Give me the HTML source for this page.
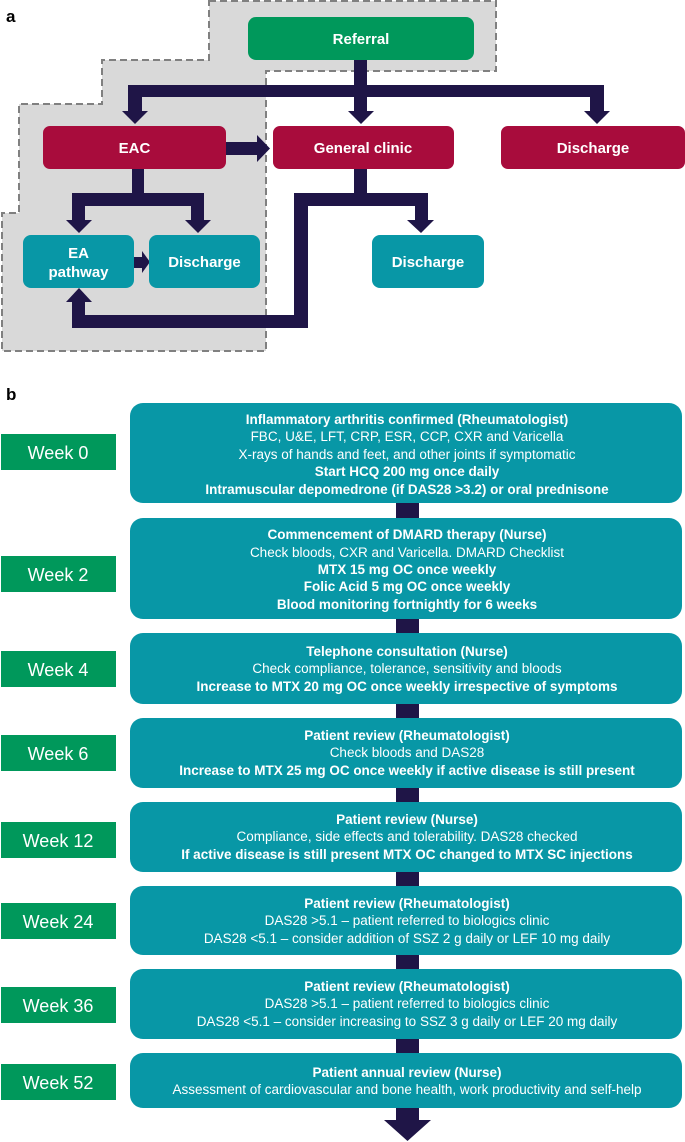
<!DOCTYPE html>
<html><head><meta charset="utf-8"><style>
html,body{margin:0;padding:0;background:#fff;}
svg{display:block;}
text{font-family:"Liberation Sans","DejaVu Sans",sans-serif;fill:#fff;}
</style></head><body>
<svg width="685" height="1142" viewBox="0 0 685 1142" xmlns="http://www.w3.org/2000/svg">
<text x="6" y="22" style="fill:#000;font-weight:bold;font-size:17px">a</text>
<path d="M209,1 L496,1 L496,71 L266,71 L266,351 L2,351 L2,213 L19,213 L19,104 L102,104 L102,60 L209,60 Z" fill="#d9d9d9" stroke="#808080" stroke-width="2" stroke-dasharray="7,4"/>
<g fill="#1f1547">
<rect x="354" y="60" width="13" height="35"/>
<rect x="128" y="85" width="476" height="12"/>
<rect x="128" y="85" width="14" height="28"/>
<rect x="354" y="85" width="13" height="28"/>
<rect x="590" y="85" width="14" height="28"/>
<polygon points="122,111 148,111 135,124"/>
<polygon points="348,111 374,111 361,124"/>
<polygon points="584,111 610,111 597,124"/>
<rect x="226" y="142" width="32" height="13"/>
<polygon points="257,135 270,148.5 257,162"/>
<rect x="132" y="169" width="12" height="30"/>
<rect x="72" y="193" width="132" height="13"/>
<rect x="72" y="193" width="13" height="28"/>
<rect x="191" y="193" width="13" height="28"/>
<polygon points="66,220 92,220 79,233"/>
<polygon points="185,220 211,220 198,233"/>
<rect x="134" y="257" width="9" height="11"/>
<polygon points="142,251 150,262 142,273"/>
<rect x="354" y="169" width="13" height="30"/>
<rect x="294" y="193" width="134" height="13"/>
<rect x="415" y="193" width="13" height="28"/>
<polygon points="407,220 434,220 421,233"/>
<rect x="294" y="193" width="14" height="135"/>
<rect x="72" y="315" width="236" height="13"/>
<rect x="72" y="300" width="13" height="28"/>
<polygon points="66,302 92,302 79,288"/>
</g>
<rect x="248" y="17" width="226" height="43" rx="8" fill="#00985b"/>
<text x="361" y="44" text-anchor="middle" font-weight="bold" font-size="15">Referral</text>
<rect x="43" y="126" width="183" height="43" rx="7" fill="#a80c3c"/>
<text x="134.5" y="153" text-anchor="middle" font-weight="bold" font-size="15">EAC</text>
<rect x="273" y="126" width="181" height="43" rx="7" fill="#a80c3c"/>
<text x="363" y="153" text-anchor="middle" font-weight="bold" font-size="15">General clinic</text>
<rect x="501" y="126" width="184" height="43" rx="7" fill="#a80c3c"/>
<text x="593" y="153" text-anchor="middle" font-weight="bold" font-size="15">Discharge</text>
<rect x="23" y="235" width="111" height="53" rx="8" fill="#0897a6"/>
<text x="78.5" y="258" text-anchor="middle" font-weight="bold" font-size="15">EA</text>
<text x="78.5" y="277" text-anchor="middle" font-weight="bold" font-size="15">pathway</text>
<rect x="149" y="235" width="111" height="53" rx="8" fill="#0897a6"/>
<text x="204.5" y="267" text-anchor="middle" font-weight="bold" font-size="15">Discharge</text>
<rect x="372" y="235" width="112" height="53" rx="8" fill="#0897a6"/>
<text x="428" y="267" text-anchor="middle" font-weight="bold" font-size="15">Discharge</text>

<text x="6" y="400" style="fill:#000;font-weight:bold;font-size:17px">b</text>
<rect x="396" y="410" width="23" height="712" fill="#1f1547"/>
<polygon points="384,1120 431,1120 407.5,1141" fill="#1f1547"/>

<g fill="#00985b">
<rect x="1" y="434" width="115" height="36"/>
<rect x="1" y="556" width="115" height="36"/>
<rect x="1" y="651" width="115" height="36"/>
<rect x="1" y="735" width="115" height="36"/>
<rect x="1" y="822" width="115" height="36"/>
<rect x="1" y="903" width="115" height="36"/>
<rect x="1" y="987" width="115" height="36"/>
<rect x="1" y="1064" width="115" height="36"/>
</g>
<g font-size="18" text-anchor="middle">
<text x="58" y="459">Week 0</text>
<text x="58" y="581">Week 2</text>
<text x="58" y="676">Week 4</text>
<text x="58" y="760">Week 6</text>
<text x="58" y="847">Week 12</text>
<text x="58" y="928">Week 24</text>
<text x="58" y="1012">Week 36</text>
<text x="58" y="1089">Week 52</text>
</g>
<g fill="#0897a6">
<rect x="130" y="403" width="552" height="100" rx="13"/>
<rect x="130" y="518" width="552" height="101" rx="13"/>
<rect x="130" y="633" width="552" height="71" rx="13"/>
<rect x="130" y="718" width="552" height="70" rx="13"/>
<rect x="130" y="802" width="552" height="70" rx="13"/>
<rect x="130" y="886" width="552" height="69" rx="13"/>
<rect x="130" y="969" width="552" height="70" rx="13"/>
<rect x="130" y="1053" width="552" height="55" rx="13"/>
</g>
<g font-size="13.5" text-anchor="middle">
<text x="407" y="424" font-weight="bold">Inflammatory arthritis confirmed (Rheumatologist)</text>
<text x="407" y="441">FBC, U&amp;E, LFT, CRP, ESR, CCP, CXR and Varicella</text>
<text x="407" y="459">X-rays of hands and feet, and other joints if symptomatic</text>
<text x="407" y="476" font-weight="bold">Start HCQ 200 mg once daily</text>
<text x="407" y="494" font-weight="bold">Intramuscular depomedrone (if DAS28 &gt;3.2) or oral prednisone</text>

<text x="407" y="539" font-weight="bold">Commencement of DMARD therapy (Nurse)</text>
<text x="407" y="557">Check bloods, CXR and Varicella. DMARD Checklist</text>
<text x="407" y="574" font-weight="bold">MTX 15 mg OC once weekly</text>
<text x="407" y="591" font-weight="bold">Folic Acid 5 mg OC once weekly</text>
<text x="407" y="609" font-weight="bold">Blood monitoring fortnightly for 6 weeks</text>

<text x="407" y="656" font-weight="bold">Telephone consultation (Nurse)</text>
<text x="407" y="673">Check compliance, tolerance, sensitivity and bloods</text>
<text x="407" y="691" font-weight="bold">Increase to MTX 20 mg OC once weekly irrespective of symptoms</text>

<text x="407" y="740" font-weight="bold">Patient review (Rheumatologist)</text>
<text x="407" y="757">Check bloods and DAS28</text>
<text x="407" y="775" font-weight="bold">Increase to MTX 25 mg OC once weekly if active disease is still present</text>

<text x="407" y="824" font-weight="bold">Patient review (Nurse)</text>
<text x="407" y="841">Compliance, side effects and tolerability. DAS28 checked</text>
<text x="407" y="859" font-weight="bold">If active disease is still present MTX OC changed to MTX SC injections</text>

<text x="407" y="908" font-weight="bold">Patient review (Rheumatologist)</text>
<text x="407" y="925">DAS28 &gt;5.1 – patient referred to biologics clinic</text>
<text x="407" y="943">DAS28 &lt;5.1 – consider addition of SSZ 2 g daily or LEF 10 mg daily</text>

<text x="407" y="991" font-weight="bold">Patient review (Rheumatologist)</text>
<text x="407" y="1008">DAS28 &gt;5.1 – patient referred to biologics clinic</text>
<text x="407" y="1026">DAS28 &lt;5.1 – consider increasing to SSZ 3 g daily or LEF 20 mg daily</text>

<text x="407" y="1077" font-weight="bold">Patient annual review (Nurse)</text>
<text x="407" y="1094">Assessment of cardiovascular and bone health, work productivity and self-help</text>
</g>
</svg>
</body></html>
